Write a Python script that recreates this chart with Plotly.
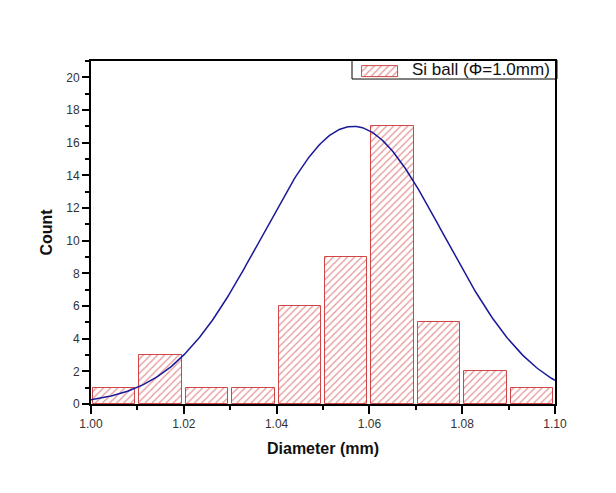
import numpy as np
import plotly.graph_objects as go

# Histogram data
bin_starts = [1.00, 1.01, 1.02, 1.03, 1.04, 1.05, 1.06, 1.07, 1.08, 1.09]
counts = [1, 3, 1, 1, 6, 9, 17, 5, 2, 1]
bin_width = 0.01

# Gaussian fit parameters
fit_amp = 17.0
fit_mu = 1.0565
fit_sigma = 0.0196

series_name = "Si ball (\u03a6=1.0mm)"

centers = [b + bin_width / 2 for b in bin_starts]
xf = np.linspace(1.0, 1.1, 300)
yf = fit_amp * np.exp(-((xf - fit_mu) ** 2) / (2 * fit_sigma ** 2))

red = "#cc2a2a"
edge = "#d04545"
bar_marker = dict(color="white", line=dict(color=edge, width=1),
                  pattern=dict(shape="/", fgcolor=red, bgcolor="white", size=5, solidity=0.25))

fig = go.Figure()
fig.add_trace(go.Bar(x=centers, y=counts, width=0.0091, name=series_name,
                     marker=bar_marker, showlegend=False))
fig.add_trace(go.Scatter(x=xf, y=yf, mode="lines", line=dict(color="#1a1a99", width=1.5),
                         showlegend=False))
# legend swatch (drawn on its own small axes so it can be wide like the original)
fig.add_trace(go.Bar(x=[0.5], y=[1], width=1, marker=bar_marker, xaxis="x2", yaxis="y2",
                     showlegend=False, hoverinfo="skip"))

font = "Arial, Liberation Sans, sans-serif"
fig.update_layout(
    width=616, height=493,
    margin=dict(l=91, r=61, t=61, b=89),
    paper_bgcolor="white", plot_bgcolor="white",
    font=dict(family=font, color="#222"),
    bargap=0,
    showlegend=False,
    xaxis2=dict(domain=[0.582, 0.664], range=[-0.03, 1.03], visible=False, anchor="y2", fixedrange=True),
    yaxis2=dict(domain=[0.950, 0.988], range=[-0.05, 1.05], visible=False, anchor="x2", fixedrange=True),
    shapes=[dict(type="rect", xref="paper", yref="paper", x0=0.5625, x1=1.0043,
                 y0=0.9475, y1=1.003, line=dict(color="black", width=1),
                 fillcolor="white", layer="below")],
    annotations=[dict(text=series_name, xref="paper", yref="paper", x=0.6875, y=0.975,
                      xanchor="left", yanchor="middle", showarrow=False,
                      font=dict(size=17, family=font, color="#111"))],
    xaxis=dict(range=[1.0, 1.1], tick0=1.0, dtick=0.02, tickformat=".2f",
               ticks="outside", ticklen=8, tickwidth=1.5, tickcolor="black",
               minor=dict(dtick=0.01, ticks="outside", ticklen=4, tickcolor="black", tickwidth=1.5),
               showline=True, linecolor="black", linewidth=2, mirror=True,
               showgrid=False, zeroline=False,
               tickfont=dict(size=12, color="#333"),
               title=dict(text="<b>Diameter (mm)</b>", font=dict(size=16, color="#111"), standoff=12)),
    yaxis=dict(range=[0, 21], tick0=0, dtick=2,
               ticks="outside", ticklen=7, tickwidth=1.5, tickcolor="black",
               minor=dict(dtick=1, ticks="outside", ticklen=4, tickcolor="black", tickwidth=1.5),
               showline=True, linecolor="black", linewidth=2, mirror=True,
               showgrid=False, zeroline=False,
               tickfont=dict(size=12, color="#333"),
               title=dict(text="<b>Count</b>", font=dict(size=16, color="#111"), standoff=10)),
)

fig.write_html("out.html")
